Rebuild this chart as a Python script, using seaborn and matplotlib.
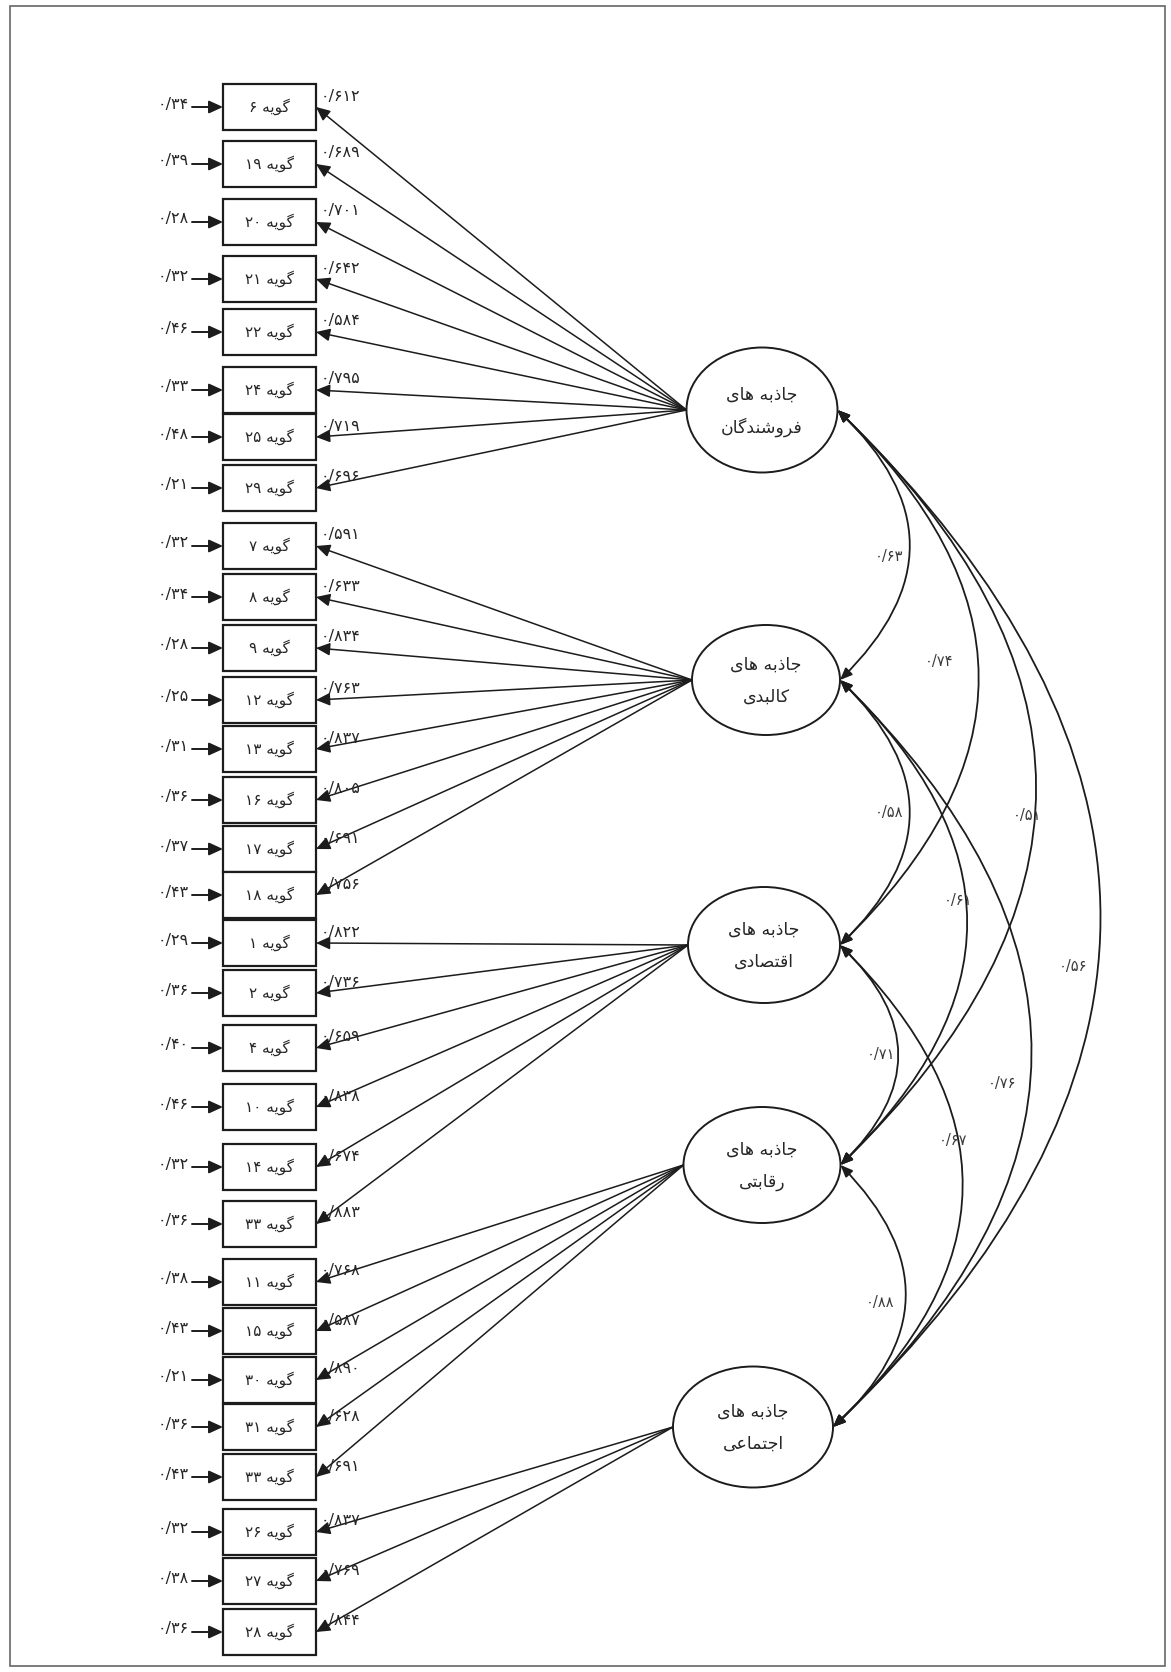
"""Path diagram (CFA) for the five attraction factors, drawn with matplotlib patches on a seaborn theme."""

import matplotlib.pyplot as plt
import seaborn as sns
from matplotlib.patches import Ellipse, FancyArrowPatch, Rectangle

# ---- data -------------------------------------------------------------
FACTOR_NAMES = [
    "جاذبه های فروشندگان",
    "جاذبه های کالبدی",
    "جاذبه های اقتصادی",
    "جاذبه های رقابتی",
    "جاذبه های اجتماعی",
]
ITEM_WORD = "گویه"

ITEMS = [
    [6, 19, 20, 21, 22, 24, 25, 29],
    [7, 8, 9, 12, 13, 16, 17, 18],
    [1, 2, 4, 10, 14, 33],
    [11, 15, 30, 31, 33],
    [26, 27, 28],
]
LOADINGS = [
    [0.612, 0.689, 0.701, 0.642, 0.584, 0.795, 0.719, 0.696],
    [0.591, 0.633, 0.834, 0.763, 0.837, 0.805, 0.691, 0.756],
    [0.822, 0.736, 0.659, 0.838, 0.674, 0.883],
    [0.768, 0.587, 0.890, 0.628, 0.691],
    [0.837, 0.769, 0.844],
]
ERRORS = [
    [0.34, 0.39, 0.28, 0.32, 0.46, 0.33, 0.48, 0.21],
    [0.32, 0.34, 0.28, 0.25, 0.31, 0.36, 0.37, 0.43],
    [0.29, 0.36, 0.40, 0.46, 0.32, 0.36],
    [0.38, 0.43, 0.21, 0.36, 0.43],
    [0.32, 0.38, 0.36],
]
CORR_PAIRS = [(0, 1), (0, 2), (0, 3), (0, 4), (1, 2), (1, 3), (1, 4), (2, 3), (2, 4), (3, 4)]
CORR_VALUES = [0.63, 0.74, 0.51, 0.56, 0.58, 0.61, 0.76, 0.71, 0.67, 0.88]

# ---- layout (pixel units, y down) -------------------------------------
W, H = 1171, 1672
BOX_Y = [107, 164, 222, 279, 332, 390, 437, 488,
         546, 597, 648, 700, 749, 800, 849, 895,
         943, 993, 1048, 1107, 1167, 1224,
         1282, 1331, 1380, 1427, 1477,
         1532, 1581, 1632]
BOX_X0, BOX_X1, BOX_H = 223, 316, 46
ERR_X0 = 192
FACTOR_GEOM = [(762, 410, 151, 125), (766, 680, 148, 110), (764, 945, 152, 116),
               (762, 1165, 157, 116), (753, 1427, 160, 121)]
ARC_RAD = -0.52
# nudges of the correlation labels away from the arc midpoints
CORR_LABEL_DX = [0, -18, 12, -6, 0, 12, -8, 4, 12, -4]
CORR_LABEL_DY = [12, -16, 28, 48, 0, -22, 30, 0, -46, 7]
INK = "#1c1c1c"
TXT = "#262626"

# ---- Persian text helpers (matplotlib does no Arabic shaping) ---------
DUAL = {"ب": 0xFE8F, "ت": 0xFE95, "ج": 0xFE9D, "ح": 0xFEA1, "ش": 0xFEB5, "ص": 0xFEB9,
        "ع": 0xFEC9, "ف": 0xFED1, "ق": 0xFED5, "ل": 0xFEDD, "م": 0xFEE1, "ن": 0xFEE5,
        "ه": 0xFEE9, "ی": 0xFBFC, "ک": 0xFB8E, "گ": 0xFB92}
RIGHT = {"ا": 0xFE8D, "د": 0xFEA9, "ذ": 0xFEAB, "ر": 0xFEAD, "و": 0xFEED}
FA_DIGITS = str.maketrans("0123456789", "۰۱۲۳۴۵۶۷۸۹")


def shape_word(word):
    out = []
    for i, ch in enumerate(word):
        prev = word[i - 1] if i > 0 else ""
        nxt = word[i + 1] if i + 1 < len(word) else ""
        joined_before = prev in DUAL
        joins_after = ch in DUAL and (nxt in DUAL or nxt in RIGHT)
        if ch in DUAL:
            off = {(False, False): 0, (True, False): 1,
                   (False, True): 2, (True, True): 3}[(joined_before, joins_after)]
            out.append(chr(DUAL[ch] + off))
        elif ch in RIGHT:
            out.append(chr(RIGHT[ch] + (1 if joined_before else 0)))
        else:
            out.append(ch)
    return "".join(reversed(out))


def rtl(text):
    words = [w if w.isdigit() else shape_word(w) for w in text.split(" ")]
    return " ".join(reversed(words))


def fa_num(value, decimals):
    return f"{value:.{decimals}f}".replace(".", "/").translate(FA_DIGITS)


def main():
    sns.set_theme(style="white")
    plt.rcParams["font.family"] = ["DejaVu Sans"]

    fig = plt.figure(figsize=(W / 100, H / 100), dpi=100)
    ax = fig.add_axes([0, 0, 1, 1])
    ax.set_xlim(0, W)
    ax.set_ylim(H, 0)
    ax.axis("off")

    ax.add_patch(Rectangle((10, 6), W - 16, H - 12, fill=False, ec="#666666", lw=1.2))

    head = "-|>,head_length=0.7,head_width=0.32"
    row = 0
    for f, (cx, cy, fw, fh) in enumerate(FACTOR_GEOM):
        src = (cx - fw / 2, cy)
        for item, load, err in zip(ITEMS[f], LOADINGS[f], ERRORS[f]):
            yc = BOX_Y[row]
            row += 1
            ax.add_patch(Rectangle((BOX_X0, yc - BOX_H / 2), BOX_X1 - BOX_X0, BOX_H,
                                   fc="white", ec=INK, lw=1.6, zorder=3))
            label = rtl(f"{ITEM_WORD} {str(item).translate(FA_DIGITS)}")
            ax.text((BOX_X0 + BOX_X1) / 2, yc, label, ha="center", va="center",
                    fontsize=11, color=TXT, zorder=4)
            # loading arrow from latent factor to indicator
            ax.add_patch(FancyArrowPatch(src, (BOX_X1, yc), arrowstyle=head, mutation_scale=12,
                                         lw=1.1, color=INK, shrinkA=0, shrinkB=0, zorder=2))
            ax.text(BOX_X1 + 5, yc - 11, fa_num(load, 3), ha="left", va="center",
                    fontsize=11.5, color=TXT, zorder=4)
            # error term
            ax.add_patch(FancyArrowPatch((ERR_X0, yc), (BOX_X0, yc), arrowstyle=head,
                                         mutation_scale=12, lw=1.4, color=INK,
                                         shrinkA=0, shrinkB=0, zorder=2))
            ax.text(ERR_X0 - 3, yc - 3, fa_num(err, 2), ha="right", va="center",
                    fontsize=11.5, color=TXT)

        ax.add_patch(Ellipse((cx, cy), fw, fh, fc="white", ec=INK, lw=1.4, zorder=3))
        words = FACTOR_NAMES[f].split(" ")
        ax.text(cx, cy - 15, rtl(" ".join(words[:2])), ha="center", va="center",
                fontsize=12.5, color=TXT, zorder=4)
        ax.text(cx, cy + 17, rtl(" ".join(words[2:])), ha="center", va="center",
                fontsize=12.5, color=TXT, zorder=4)

    # correlations between factors
    for k, ((a, b), r) in enumerate(zip(CORR_PAIRS, CORR_VALUES)):
        ax_, ay, aw, _ = FACTOR_GEOM[a]
        bx_, by, bw, _ = FACTOR_GEOM[b]
        pa = (ax_ + aw / 2, ay)
        pb = (bx_ + bw / 2, by)
        ax.add_patch(FancyArrowPatch(pa, pb, connectionstyle=f"arc3,rad={ARC_RAD}",
                                     arrowstyle="<|-|>,head_length=0.6,head_width=0.25",
                                     mutation_scale=12, lw=1.3, color=INK,
                                     shrinkA=0, shrinkB=0, zorder=2))
        mx = (pa[0] + pb[0]) / 2 - ARC_RAD * (pb[1] - pa[1]) / 2
        my = (pa[1] + pb[1]) / 2
        ax.text(mx - 6 + CORR_LABEL_DX[k], my + CORR_LABEL_DY[k], fa_num(r, 2),
                ha="right", va="center", fontsize=10.5, color="#3a3a3a")

    fig.savefig("out.png", dpi=100)
    plt.close(fig)


if __name__ == "__main__":
    main()
